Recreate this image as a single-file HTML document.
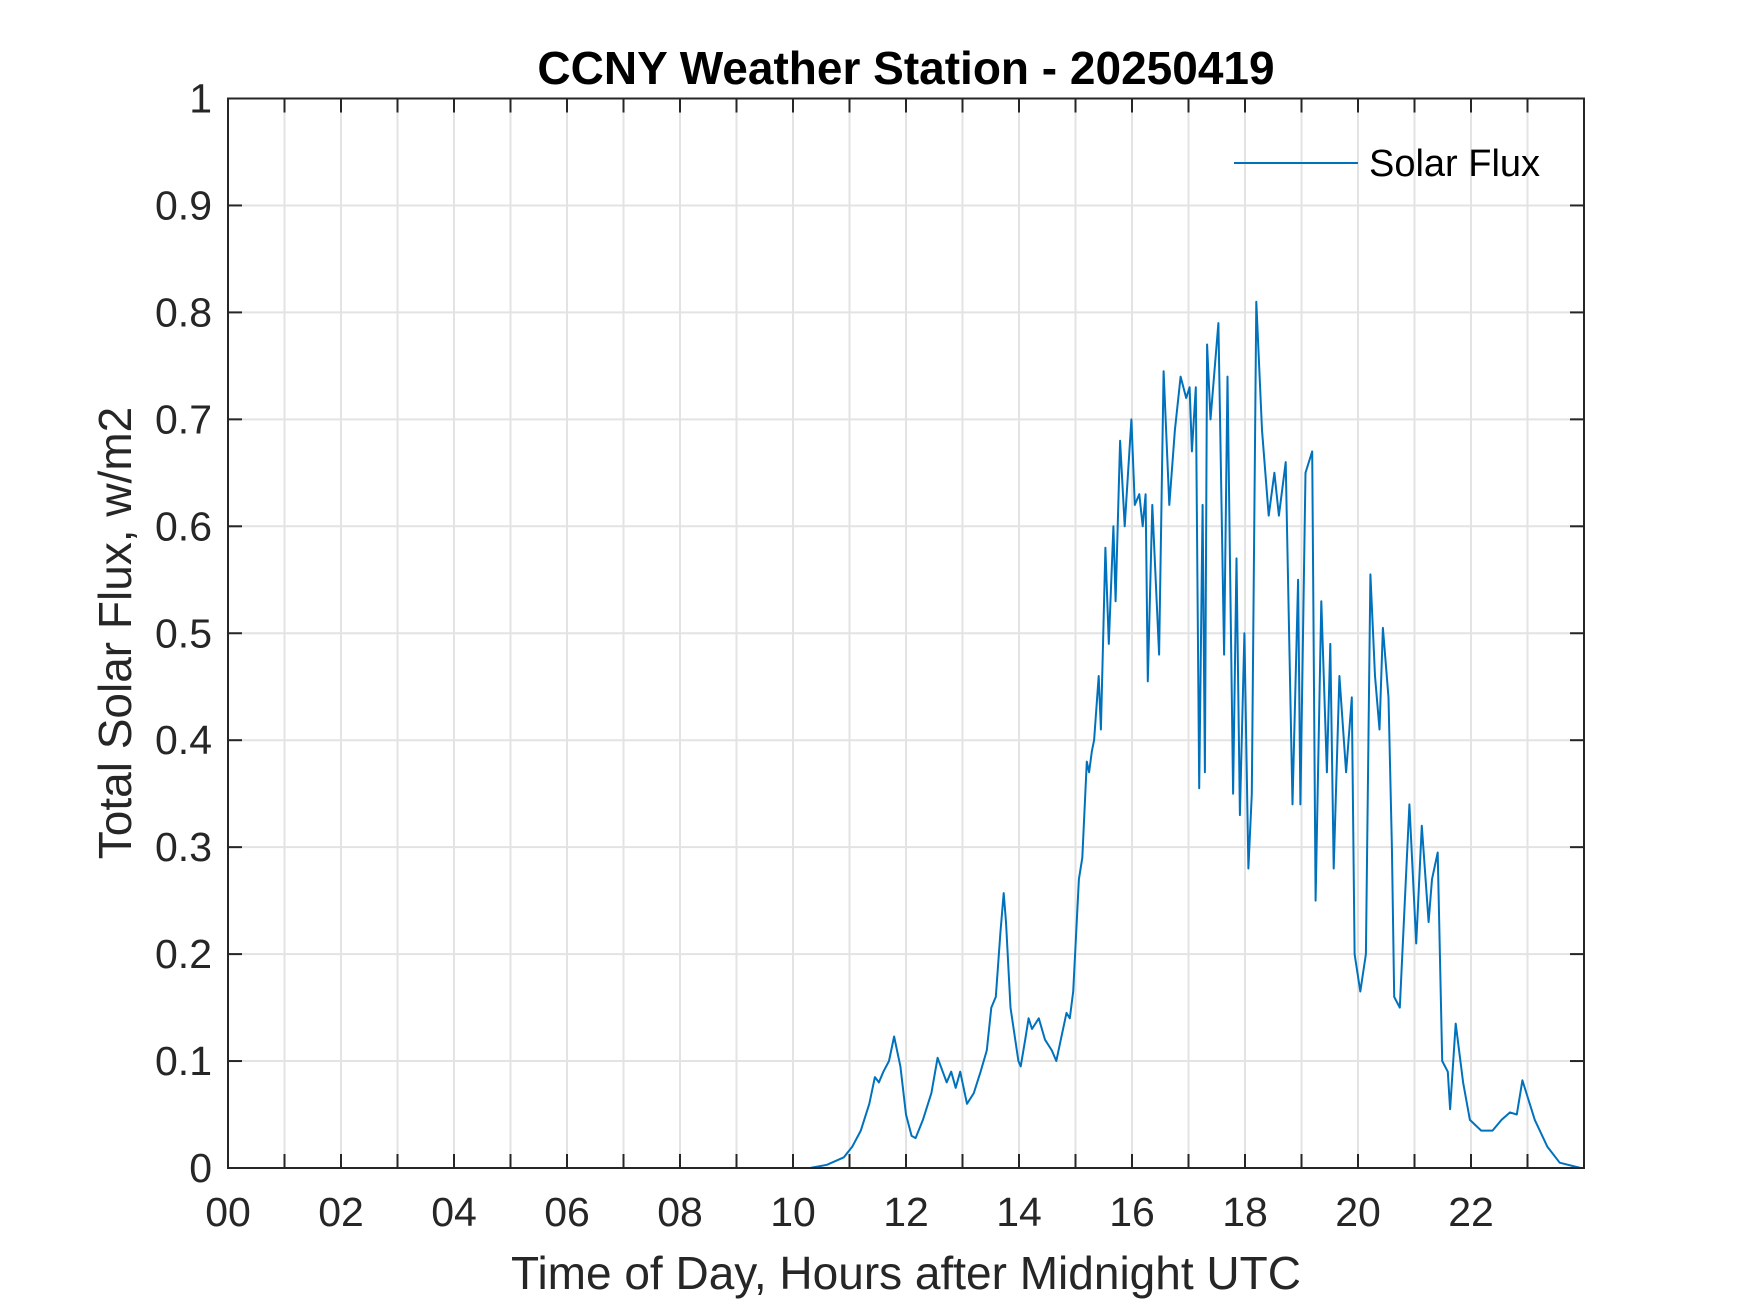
<!DOCTYPE html>
<html><head><meta charset="utf-8"><style>
html,body{margin:0;padding:0;background:#fff;}
svg{display:block;font-family:"Liberation Sans",Arial,sans-serif;}
</style></head><body>
<svg id="chart" width="1750" height="1313" viewBox="0 0 1750 1313" xmlns="http://www.w3.org/2000/svg">
<rect width="1750" height="1313" fill="#fff"/>
<g id="grid"></g>
<g id="ticks"></g>
<g id="series"></g>
<rect x="228" y="98.5" width="1356" height="1069.5" fill="none" stroke="#262626" stroke-width="2"/>
<text x="906" y="84" text-anchor="middle" font-size="46" font-weight="bold" fill="#000">CCNY Weather Station - 20250419</text>
<text x="906" y="1289" text-anchor="middle" font-size="46" fill="#262626">Time of Day, Hours after Midnight UTC</text>
<text transform="translate(131,633) rotate(-90)" text-anchor="middle" font-size="46" fill="#262626">Total Solar Flux, w/m2</text>
<g>
<line x1="1234" y1="163" x2="1358" y2="163" stroke="#0072BD" stroke-width="2"/>
<text x="1369" y="176" font-size="38" fill="#000">Solar Flux</text>
</g>
</svg>
<script>
const hours = [0,10.3,10.6,10.9,11.05,11.2,11.35,11.45,11.52,11.6,11.7,11.79,11.9,12.0,12.1,12.17,12.3,12.45,12.56,12.72,12.80,12.88,12.96,13.08,13.20,13.32,13.43,13.51,13.59,13.67,13.73,13.77,13.85,13.99,14.03,14.11,14.17,14.23,14.35,14.46,14.58,14.66,14.74,14.84,14.90,14.96,15.06,15.12,15.20,15.24,15.29,15.33,15.41,15.45,15.53,15.59,15.67,15.71,15.79,15.87,15.99,16.05,16.13,16.19,16.24,16.28,16.36,16.48,16.56,16.66,16.76,16.86,16.96,17.02,17.06,17.13,17.19,17.25,17.29,17.33,17.39,17.53,17.63,17.69,17.79,17.85,17.91,17.99,18.06,18.12,18.20,18.30,18.42,18.52,18.60,18.72,18.84,18.94,18.98,19.07,19.19,19.25,19.35,19.45,19.51,19.57,19.67,19.79,19.89,19.94,20.04,20.14,20.22,20.30,20.38,20.44,20.54,20.60,20.64,20.74,20.91,21.03,21.13,21.25,21.31,21.41,21.49,21.59,21.63,21.73,21.86,21.98,22.18,22.38,22.54,22.69,22.81,22.91,23.01,23.13,23.35,23.57,23.94];
const flux = [0,0,0.003,0.01,0.02,0.035,0.06,0.085,0.08,0.09,0.1,0.123,0.095,0.05,0.03,0.028,0.045,0.07,0.103,0.08,0.09,0.075,0.09,0.06,0.07,0.09,0.11,0.15,0.16,0.22,0.257,0.23,0.15,0.1,0.095,0.12,0.14,0.13,0.14,0.12,0.11,0.1,0.12,0.145,0.14,0.165,0.27,0.29,0.38,0.37,0.39,0.4,0.46,0.41,0.58,0.49,0.6,0.53,0.68,0.6,0.7,0.62,0.63,0.6,0.63,0.455,0.62,0.48,0.745,0.62,0.69,0.74,0.72,0.73,0.67,0.73,0.355,0.62,0.37,0.77,0.7,0.79,0.48,0.74,0.35,0.57,0.33,0.5,0.28,0.35,0.81,0.69,0.61,0.65,0.61,0.66,0.34,0.55,0.34,0.65,0.67,0.25,0.53,0.37,0.49,0.28,0.46,0.37,0.44,0.2,0.165,0.2,0.555,0.46,0.41,0.505,0.44,0.3,0.16,0.15,0.34,0.21,0.32,0.23,0.27,0.295,0.1,0.09,0.055,0.135,0.08,0.045,0.035,0.035,0.045,0.052,0.05,0.082,0.065,0.045,0.02,0.005,0];
const xTickLabels = ["00","02","04","06","08","10","12","14","16","18","20","22"];
const yTickLabels = ["0","0.1","0.2","0.3","0.4","0.5","0.6","0.7","0.8","0.9","1"];
const X0=228,X1=1584,Y0=1168,Y1=98.5,XMAX=24,YMAX=1;
function xs(h){return X0+(X1-X0)*h/XMAX;}
function ys(v){return Y0-(Y0-Y1)*v/YMAX;}
const NS="http://www.w3.org/2000/svg";
const grid=document.getElementById('grid'),ticks=document.getElementById('ticks'),series=document.getElementById('series');
function mk(tag,attrs,parent){const e=document.createElementNS(NS,tag);for(const k in attrs)e.setAttribute(k,attrs[k]);parent.appendChild(e);return e;}
for(let h=1;h<XMAX;h++){
  const gl=mk('line',{x1:xs(h),x2:xs(h),y1:Y1,y2:Y0,stroke:'#e3e3e3','stroke-width':2},grid);
  
  
}
for(let h=0;h<=XMAX;h++){
  const t1=mk('line',{x1:xs(h),x2:xs(h),y1:Y0,y2:Y0-14,stroke:'#262626','stroke-width':2},ticks);
  
  
  const t2=mk('line',{x1:xs(h),x2:xs(h),y1:Y1,y2:Y1+14,stroke:'#262626','stroke-width':2},ticks);
  
  
}
xTickLabels.forEach((lab,i)=>{
  const t=mk('text',{x:xs(i*2),y:Y0+58,'text-anchor':'middle','font-size':41,fill:'#262626'},ticks);
  t.textContent=lab;
  
  
});
yTickLabels.forEach((lab,i)=>{
  const v=i/10;
  if(i>0&&i<10){
    const gl=mk('line',{x1:X0,x2:X1,y1:ys(v),y2:ys(v),stroke:'#e3e3e3','stroke-width':2},grid);
    
    
  }
  const a=mk('line',{x1:X0,x2:X0+14,y1:ys(v),y2:ys(v),stroke:'#262626','stroke-width':2},ticks);
  
  
  const b=mk('line',{x1:X1,x2:X1-14,y1:ys(v),y2:ys(v),stroke:'#262626','stroke-width':2},ticks);
  
  
  const t=mk('text',{x:X0-16,y:ys(v)+14,'text-anchor':'end','font-size':41,fill:'#262626'},ticks);
  t.textContent=lab;
  
  
});
let d='';
hours.forEach((h,i)=>{d+=(i?'L':'M')+xs(h).toFixed(1)+' '+ys(flux[i]).toFixed(1);});
const p=mk('path',{d:d,fill:'none',stroke:'#0072BD','stroke-width':2,'stroke-linejoin':'round'},series);


</script>
</body></html>
